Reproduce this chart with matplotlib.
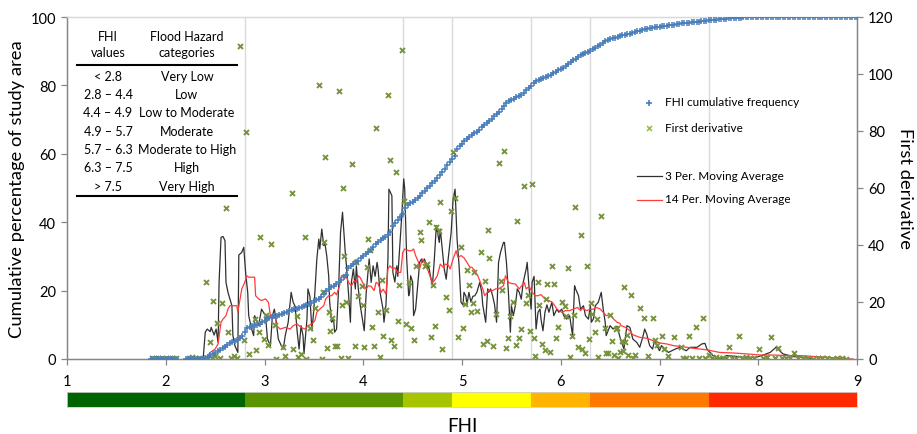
import matplotlib
matplotlib.use("Agg")
import matplotlib.pyplot as plt
from matplotlib.lines import Line2D
import numpy as np

plt.rcParams['font.family'] = ['Lato', 'DejaVu Sans']

# ---------------- data ----------------
cum_x = [1.850, 1.875, 1.900, 1.925, 1.950, 1.975, 2.000, 2.025, 2.050, 2.075, 2.100,
         2.200, 2.225, 2.250, 2.275, 2.300, 2.325, 2.350, 2.375,
         2.400, 2.425, 2.450, 2.475, 2.500, 2.525, 2.550, 2.575, 2.600, 2.625,
         2.650, 2.675, 2.700, 2.725, 2.750, 2.775, 2.800, 2.825, 2.850, 2.875,
         2.900, 2.925, 2.950, 2.975, 3.000, 3.025, 3.050, 3.075, 3.100, 3.125,
         3.150, 3.175, 3.200, 3.225, 3.250, 3.275, 3.300, 3.325, 3.350, 3.375,
         3.400, 3.425, 3.450, 3.475, 3.500, 3.525, 3.550, 3.575, 3.600, 3.625,
         3.650, 3.675, 3.700, 3.725, 3.750, 3.775, 3.800, 3.825, 3.850, 3.875,
         3.900, 3.925, 3.950, 3.975, 4.000, 4.025, 4.050, 4.075, 4.100, 4.125,
         4.150, 4.175, 4.200, 4.225, 4.250, 4.275, 4.300, 4.325, 4.350, 4.375,
         4.400, 4.425, 4.450, 4.475, 4.500, 4.525, 4.550, 4.575, 4.600, 4.625,
         4.650, 4.675, 4.700, 4.725, 4.750, 4.775, 4.800, 4.825, 4.850, 4.875,
         4.900, 4.925, 4.950, 4.975, 5.000, 5.025, 5.050, 5.075, 5.100, 5.125,
         5.150, 5.175, 5.200, 5.225, 5.250, 5.275, 5.300, 5.325, 5.350, 5.375,
         5.400, 5.425, 5.450, 5.475, 5.500, 5.525, 5.550, 5.575, 5.600, 5.625,
         5.650, 5.675, 5.700, 5.725, 5.750, 5.775, 5.800, 5.825, 5.850, 5.875,
         5.900, 5.925, 5.950, 5.975, 6.000, 6.025, 6.050, 6.075, 6.100, 6.125,
         6.150, 6.175, 6.200, 6.225, 6.250, 6.275, 6.300, 6.325, 6.350, 6.375,
         6.400, 6.425, 6.450, 6.475, 6.500, 6.525, 6.550, 6.575, 6.600, 6.625,
         6.650, 6.675, 6.700, 6.725, 6.750, 6.775, 6.800, 6.825, 6.850, 6.875,
         6.900, 6.925, 6.950, 6.975, 7.000, 7.025, 7.050, 7.075, 7.100, 7.125,
         7.150, 7.175, 7.200, 7.225, 7.250, 7.275, 7.300, 7.325, 7.350, 7.375,
         7.400, 7.425, 7.450, 7.475, 7.500, 7.525, 7.550, 7.575, 7.600, 7.625,
         7.650, 7.675, 7.700, 7.725, 7.750, 7.775, 7.800, 7.825, 7.850, 7.875,
         7.900, 7.925, 7.950, 7.975, 8.000, 8.025, 8.050, 8.075, 8.100, 8.125,
         8.150, 8.175, 8.200, 8.225, 8.250, 8.275, 8.300, 8.325, 8.350, 8.375,
         8.400, 8.425, 8.450, 8.475, 8.500, 8.525, 8.550, 8.575, 8.600, 8.625,
         8.650, 8.675, 8.700, 8.725, 8.750, 8.775, 8.800, 8.825, 8.850, 8.875,
         8.900, 8.925, 8.950, 8.975, 9.000]
cum_pct = [0, 0, 0, 0, 0, 0, 0, 0, 0, 0, 0,
           0, 0, 0, 0, 0, 0, 0, 0,
           0.3, 0.7, 1.2, 1.5, 1.8, 2.2, 2.6, 3.1, 3.6, 4.2,
           4.8, 5.0, 5.3, 5.6, 6.0, 6.6, 7.8, 9.2, 9.4, 9.6,
           9.8, 10.0, 10.3, 10.8, 11.2, 11.6, 12.0, 12.2, 12.5, 12.7,
           13.0, 13.2, 13.5, 13.7, 14.0, 14.2, 14.5, 14.7, 15.0, 15.3,
           15.6, 15.9, 16.2, 16.5, 16.9, 17.2, 17.5, 18.2, 19.0, 19.8,
           20.5, 21.0, 21.3, 21.8, 22.4, 23.1, 23.9, 24.6, 26.5, 27.2,
           27.8, 28.3, 28.8, 29.4, 30.0, 30.6, 31.2, 32.0, 32.8, 33.6,
           34.3, 34.8, 35.3, 35.8, 36.4, 37.0, 39.0, 39.8, 40.6, 41.5,
           42.5, 44.2, 44.9, 45.5, 46.0, 46.5, 47.0, 47.7, 48.5, 49.2,
           50.0, 50.7, 51.4, 52.1, 52.9, 53.8, 54.8, 55.7, 56.6, 57.5,
           58.5, 59.5, 61.4, 62.3, 63.0, 63.7, 64.3, 64.9, 65.5, 66.0,
           66.5, 67.1, 67.8, 68.4, 69.0, 69.6, 70.3, 71.0, 71.6, 72.3,
           73.2, 74.0, 75.0, 75.4, 75.8, 76.1, 76.5, 76.9, 77.2, 77.9,
           78.6, 79.2, 79.8, 80.6, 81.2, 81.5, 81.8, 82.1, 82.4, 82.8,
           83.1, 83.5, 84.0, 84.4, 84.8, 85.2, 85.6, 86.2, 86.8, 87.3,
           87.8, 88.3, 88.8, 89.2, 89.6, 89.9, 90.2, 90.6, 91.0, 91.4,
           91.8, 92.4, 93.0, 93.4, 93.7, 93.9, 94.0, 94.2, 94.4, 94.6,
           94.7, 94.9, 95.1, 95.4, 95.6, 95.8, 96.0, 96.2, 96.4, 96.6,
           96.7, 96.9, 97.0, 97.1, 97.2, 97.3, 97.4, 97.5, 97.6, 97.7,
           97.8, 97.9, 98.0, 98.1, 98.2, 98.25, 98.3, 98.4, 98.5, 98.55,
           98.6, 98.7, 98.8, 98.9, 99.0, 99.05, 99.1, 99.2, 99.3, 99.4,
           99.5, 99.55, 99.6, 99.65, 99.7, 99.75, 99.8, 99.85, 99.9, 99.95,
           100, 100, 100, 100, 100, 100, 100, 100, 100, 100,
           100, 100, 100, 100, 100, 100, 100, 100, 100, 100,
           100, 100, 100, 100, 100, 100, 100, 100, 100, 100,
           100, 100, 100, 100, 100, 100, 100, 100, 100, 100,
           100, 100, 100, 100, 100]

deriv_x = [1.86, 1.88, 1.90, 1.92, 1.94, 1.96, 1.98, 2.00, 2.02, 2.04, 2.06, 2.08, 2.10,
           2.24, 2.27, 2.30, 2.34, 2.38, 2.41, 2.43, 2.45, 2.47, 2.48, 2.50, 2.52, 2.55,
           2.57, 2.61, 2.63, 2.66, 2.69, 2.72, 2.75, 2.79, 2.81, 2.84, 2.90, 2.91, 2.94,
           2.95, 2.99, 3.02, 3.04, 3.07, 3.11, 3.12, 3.19, 3.21, 3.28, 3.29, 3.33, 3.34,
           3.37, 3.41, 3.42, 3.46, 3.49, 3.51, 3.55, 3.58, 3.59, 3.60, 3.61, 3.63, 3.65,
           3.66, 3.68, 3.71, 3.73, 3.75, 3.77, 3.78, 3.79, 3.81, 3.83, 3.85, 3.89, 3.92,
           3.93, 3.95, 3.99, 4.00, 4.01, 4.04, 4.05, 4.07, 4.09, 4.11, 4.13, 4.15, 4.17,
           4.19, 4.20, 4.23, 4.25, 4.27, 4.28, 4.31, 4.33, 4.35, 4.36, 4.39, 4.41, 4.43,
           4.46, 4.48, 4.51, 4.53, 4.57, 4.58, 4.63, 4.65, 4.67, 4.69, 4.71, 4.73, 4.74,
           4.77, 4.78, 4.80, 4.84, 4.87, 4.89, 4.91, 4.93, 4.96, 4.99, 5.01, 5.03, 5.05,
           5.07, 5.09, 5.11, 5.12, 5.15, 5.19, 5.21, 5.23, 5.25, 5.26, 5.27, 5.31, 5.34,
           5.37, 5.39, 5.40, 5.43, 5.45, 5.47, 5.49, 5.52, 5.55, 5.56, 5.58, 5.60, 5.63,
           5.65, 5.67, 5.69, 5.71, 5.73, 5.74, 5.77, 5.78, 5.81, 5.84, 5.85, 5.86, 5.89,
           5.91, 5.93, 5.95, 5.97, 6.01, 6.04, 6.05, 6.07, 6.09, 6.11, 6.13, 6.14, 6.17,
           6.21, 6.22, 6.25, 6.27, 6.29, 6.31, 6.32, 6.35, 6.37, 6.38, 6.41, 6.45, 6.46,
           6.48, 6.50, 6.52, 6.54, 6.56, 6.57, 6.58, 6.60, 6.62, 6.63, 6.64, 6.65, 6.67,
           6.68, 6.71, 6.73, 6.75, 6.80, 6.84, 6.88, 6.93, 6.95, 6.97, 7.03, 7.05, 7.09,
           7.15, 7.22, 7.24, 7.27, 7.30, 7.33, 7.37, 7.40, 7.44, 7.46, 7.50, 7.53, 7.57,
           7.60, 7.64, 7.67, 7.70, 7.73, 7.77, 7.80, 7.84, 7.88, 7.92, 7.96, 8.01, 8.05,
           8.09, 8.13, 8.17, 8.20, 8.24, 8.28, 8.32, 8.36, 8.40, 8.45, 8.50, 8.55, 8.60,
           8.65, 8.70, 8.75, 8.80, 8.85, 8.89]
deriv_y = [0.3, 0.0, 0.5, 0.2, 0.0, 0.4, 0.1, 0.3, 0.0, 0.5, 0.2, 0.0, 0.4,
           0.3, 0.8, 0.2, 0.5, 0.0, 27.1, 0.5, 5.8, 0.3, 20.3, 1.0, 12.6, 0.4,
           19.5, 53.0, 9.6, 0.5, 1.0, 0.3, 110.0, 6.7, 79.6, 1.8, 14.0, 3.3, 9.4,
           42.9, 7.0, 15.4, 4.9, 40.5, 11.9, 0.0, 4.1, 1.2, 58.2, 3.5, 15.2, 0.7,
           1.8, 42.8, 0.0, 10.8, 6.8, 17.8, 96.0, 0.0, 23.4, 41.2, 70.9, 3.7, 16.6,
           9.9, 14.3, 4.7, 4.7, 94.0, 0.5, 18.9, 60.0, 36.3, 19.9, 0.5, 68.4, 4.5,
           33.9, 22.2, 25.7, 18.9, 4.1, 32.2, 42.0, 38.2, 11.3, 4.7, 81.0, 16.6, 0.8,
           27.7, 8.2, 17.1, 92.7, 69.8, 6.8, 4.5, 65.7, 13.2, 26.1, 108.5, 55.6, 12.4,
           27.1, 10.8, 6.8, 32.5, 44.4, 41.8, 32.5, 33.3, 48.2, 7.6, 26.1, 11.7, 46.2,
           44.8, 55.0, 3.5, 21.6, 17.2, 51.8, 72.6, 56.4, 7.6, 39.4, 10.8, 19.3, 31.2,
           26.1, 16.6, 19.6, 30.4, 17.0, 37.6, 5.3, 27.2, 6.2, 45.4, 35.3, 4.7, 15.9,
           68.8, 27.2, 24.3, 73.1, 3.9, 7.4, 15.2, 20.1, 4.9, 48.3, 7.3, 10.5, 60.8,
           19.6, 22.6, 9.9, 61.4, 7.4, 0.9, 26.9, 19.1, 5.3, 3.2, 21.1, 26.3, 2.5,
           32.5, 26.3, 7.3, 11.1, 20.1, 18.5, 15.2, 31.8, 0.6, 8.2, 15.6, 53.4, 4.3,
           43.5, 3.5, 2.1, 32.7, 7.0, 19.6, 15.8, 9.4, 14.0, 0.6, 50.3, 10.9, 2.1,
           2.0, 15.6, 6.4, 1.5, 10.5, 10.9, 0.5, 2.5, 6.4, 2.9, 25.1, 5.8, 8.5,
           1.5, 22.6, 0.5, 1.5, 17.9, 14.3, 1.2, 14.3, 6.7, 5.0, 8.0, 3.5, 1.2,
           7.6, 4.2, 0.5, 0.3, 8.2, 0.5, 11.3, 0.3, 14.3, 0.5, 1.5, 0.3, 0.8,
           0.2, 0.5, 0.3, 4.3, 0.2, 0.5, 8.0, 0.3, 0.6, 0.2, 0.4, 3.5, 0.3,
           0.6, 7.6, 0.2, 3.9, 0.4, 0.2, 0.5, 2.1, 0.3, 0.2, 0.5, 0.1, 0.3,
           0.2, 0.4, 0.1, 0.3, 0.2, 0.1]

ma3_x = [2.22, 2.30, 2.38, 2.40, 2.42, 2.45, 2.46, 2.49, 2.51, 2.53, 2.54, 2.56, 2.58,
         2.60, 2.61, 2.63, 2.64, 2.67, 2.68, 2.70, 2.73, 2.74, 2.77, 2.79, 2.81, 2.83,
         2.84, 2.87, 2.89, 2.90, 2.94, 2.97, 3.01, 3.03, 3.06, 3.08, 3.10, 3.12, 3.14,
         3.17, 3.19, 3.21, 3.24, 3.27, 3.29, 3.31, 3.33, 3.35, 3.37, 3.39, 3.40, 3.43,
         3.44, 3.46, 3.48, 3.50, 3.53, 3.55, 3.56, 3.58, 3.60, 3.61, 3.63, 3.65, 3.66,
         3.68, 3.70, 3.71, 3.73, 3.75, 3.77, 3.79, 3.81, 3.82, 3.83, 3.85, 3.87, 3.88,
         3.90, 3.92, 3.93, 3.95, 3.97, 4.01, 4.03, 4.06, 4.08, 4.10, 4.12, 4.14, 4.15,
         4.17, 4.20, 4.21, 4.23, 4.25, 4.26, 4.29, 4.30, 4.32, 4.34, 4.35, 4.37, 4.39,
         4.41, 4.42, 4.44, 4.46, 4.47, 4.48, 4.50, 4.51, 4.53, 4.56, 4.57, 4.59, 4.60,
         4.62, 4.65, 4.66, 4.68, 4.70, 4.72, 4.74, 4.77, 4.78, 4.80, 4.82, 4.84, 4.86,
         4.89, 4.91, 4.93, 4.95, 4.97, 4.99, 5.01, 5.02, 5.04, 5.05, 5.07, 5.09, 5.11,
         5.13, 5.15, 5.18, 5.20, 5.21, 5.24, 5.26, 5.27, 5.29, 5.31, 5.33, 5.35, 5.37,
         5.39, 5.42, 5.43, 5.45, 5.47, 5.49, 5.50, 5.52, 5.54, 5.56, 5.58, 5.60, 5.62,
         5.65, 5.66, 5.68, 5.70, 5.71, 5.73, 5.75, 5.77, 5.79, 5.80, 5.82, 5.84, 5.86,
         5.88, 5.91, 5.93, 5.96, 5.98, 6.01, 6.03, 6.06, 6.09, 6.12, 6.14, 6.15, 6.18,
         6.20, 6.23, 6.25, 6.28, 6.30, 6.31, 6.33, 6.35, 6.38, 6.41, 6.43, 6.45, 6.46,
         6.50, 6.53, 6.57, 6.61, 6.64, 6.67, 6.70, 6.73, 6.77, 6.80, 6.83, 6.85, 6.87,
         6.90, 6.93, 6.95, 7.00, 7.02, 7.09, 7.16, 7.21, 7.27, 7.31, 7.38, 7.43, 7.46,
         7.48, 7.54, 7.63, 7.68, 7.78, 7.85, 7.98, 8.05, 8.12, 8.18, 8.25, 8.35, 8.45, 8.55]
ma3_y = [0, 0, 0.6, 9.4, 10.5, 9.6, 11.1, 8.4, 10.5, 5.8, 26.9, 42.7, 43.0,
         41.5, 26.9, 23.4, 22.2, 18.7, 8.2, 4.7, 2.3, 36.5, 37.4, 39.2, 29.8, 23.4,
         15.2, 10.5, 8.2, 15.2, 11.7, 17.5, 15.2, 7.0, 4.7, 15.2, 17.5, 12.9, 7.0,
         4.7, 3.5, 8.2, 12.9, 23.4, 19.9, 18.5, 9.9, 3.5, 11.7, 8.2, 1.8, 14.0,
         24.6, 22.0, 9.9, 17.5, 35.1, 42.1, 38.6, 45.6, 39.8, 41.0, 36.3, 29.2, 19.9,
         12.9, 14.0, 9.4, 10.5, 24.6, 44.4, 51.5, 41.0, 36.3, 32.7, 23.4, 12.9, 26.9,
         31.6, 24.6, 32.7, 24.6, 18.7, 9.9, 23.4, 35.1, 26.9, 32.7, 29.0, 33.9, 31.6,
         23.4, 17.5, 12.9, 19.0, 35.1, 59.6, 57.3, 30.4, 27.0, 32.7, 29.0, 39.8, 50.3,
         63.2, 59.6, 35.1, 22.2, 23.4, 29.2, 27.0, 15.2, 17.5, 29.2, 33.9, 35.1, 33.9,
         35.1, 31.6, 33.0, 29.2, 25.7, 35.1, 46.8, 40.9, 45.6, 38.6, 31.6, 28.0, 35.1,
         44.4, 56.1, 59.6, 42.1, 33.0, 19.9, 19.0, 23.4, 22.0, 19.0, 23.4, 20.0, 22.0,
         22.2, 23.4, 26.9, 23.4, 19.0, 12.9, 24.6, 23.4, 24.6, 22.2, 19.0, 12.9, 33.9,
         37.4, 40.9, 40.9, 33.9, 23.4, 9.4, 18.7, 15.2, 18.7, 24.6, 23.4, 21.0, 26.9,
         31.6, 33.9, 24.6, 17.5, 26.9, 29.0, 10.5, 16.4, 17.5, 14.0, 9.9, 16.4, 19.0,
         16.4, 19.9, 15.2, 17.5, 16.4, 17.5, 15.2, 14.0, 15.2, 8.2, 25.7, 24.6, 22.2,
         17.5, 18.7, 15.2, 14.0, 18.7, 12.9, 14.0, 18.7, 19.9, 23.4, 17.5, 12.9, 8.2,
         11.7, 10.5, 11.5, 6.4, 3.5, 11.7, 11.1, 7.0, 5.8, 4.1, 7.6, 10.5, 8.8,
         4.7, 3.5, 6.4, 2.9, 4.7, 2.3, 3.5, 4.1, 2.9, 4.1, 4.1, 5.3, 5.5,
         3.5, 1.2, 0.2, 1.2, 0.9, 0.6, 0.6, 1.4, 2.3, 4.1, 1.8, 0.9, 0.6, 0.0]

ma14_x = [2.41, 2.45, 2.50, 2.53, 2.56, 2.58, 2.61, 2.63, 2.65, 2.72, 2.73, 2.77, 2.80,
          2.82, 2.84, 2.90, 2.91, 2.94, 2.97, 3.01, 3.04, 3.06, 3.08, 3.11, 3.12, 3.16,
          3.21, 3.26, 3.29, 3.33, 3.37, 3.41, 3.44, 3.48, 3.51, 3.53, 3.56, 3.60, 3.62,
          3.65, 3.68, 3.71, 3.73, 3.76, 3.78, 3.80, 3.81, 3.83, 3.85, 3.88, 3.91, 3.93,
          3.95, 3.97, 4.01, 4.03, 4.05, 4.08, 4.11, 4.13, 4.15, 4.18, 4.20, 4.23, 4.25,
          4.27, 4.30, 4.32, 4.35, 4.38, 4.40, 4.42, 4.46, 4.49, 4.51, 4.53, 4.56, 4.57,
          4.60, 4.62, 4.65, 4.68, 4.70, 4.72, 4.75, 4.78, 4.81, 4.83, 4.86, 4.88, 4.91,
          4.94, 4.96, 4.99, 5.02, 5.05, 5.08, 5.10, 5.13, 5.16, 5.18, 5.21, 5.23, 5.27,
          5.30, 5.34, 5.37, 5.42, 5.44, 5.47, 5.50, 5.54, 5.58, 5.60, 5.63, 5.65, 5.68,
          5.71, 5.74, 5.77, 5.80, 5.84, 5.88, 5.91, 5.94, 5.96, 6.01, 6.05, 6.09, 6.13,
          6.17, 6.20, 6.22, 6.26, 6.30, 6.33, 6.36, 6.40, 6.43, 6.46, 6.50, 6.53, 6.57,
          6.60, 6.61, 6.65, 6.70, 6.73, 6.80, 6.87, 6.94, 7.01, 7.07, 7.14, 7.21, 7.28,
          7.35, 7.41, 7.48, 7.55, 7.61, 7.75, 7.88, 8.02, 8.15, 8.29, 8.42, 8.55, 8.69,
          8.82, 8.96]
ma14_y = [0.6, 2.3, 3.5, 5.3, 12.9, 14.0, 15.2, 17.5, 18.7, 18.7, 16.4, 24.6, 26.9,
          29.2, 28.7, 28.7, 22.2, 21.1, 20.5, 21.1, 19.9, 15.2, 14.0, 15.2, 11.7, 10.5,
          11.1, 10.5, 11.7, 12.3, 11.1, 10.5, 11.7, 12.3, 13.5, 16.4, 17.5, 18.7, 21.1,
          22.2, 22.2, 23.4, 22.5, 25.7, 29.2, 29.5, 28.1, 29.0, 26.9, 25.7, 27.5, 27.0,
          29.2, 28.5, 25.7, 24.6, 25.7, 25.5, 24.0, 26.9, 26.5, 23.4, 24.5, 22.8, 31.6,
          32.7, 31.6, 32.0, 30.4, 30.4, 37.4, 38.6, 38.0, 38.0, 38.6, 36.3, 33.9, 31.6,
          35.1, 33.9, 31.6, 28.7, 26.9, 27.5, 29.2, 33.3, 32.2, 33.3, 33.0, 31.6, 35.1,
          38.0, 35.6, 36.3, 35.5, 33.9, 32.2, 32.2, 31.0, 29.2, 27.5, 24.6, 22.2, 24.0,
          23.8, 24.6, 24.6, 25.7, 29.2, 26.9, 26.5, 26.3, 24.6, 25.5, 26.9, 24.6, 25.5,
          23.4, 22.2, 22.2, 22.6, 21.1, 20.5, 20.0, 18.7, 17.5, 16.4, 17.0, 17.0, 17.5,
          18.1, 17.0, 17.8, 17.0, 17.4, 17.5, 18.1, 17.5, 16.4, 15.2, 15.6, 14.2, 12.9,
          12.5, 11.7, 11.2, 9.9, 8.5, 7.6, 7.3, 6.4, 5.6, 5.3, 4.7, 4.4, 4.1,
          3.7, 3.5, 3.2, 2.7, 2.3, 2.1, 1.8, 1.4, 1.4, 1.2, 1.2, 0.9, 0.6,
          0.2, 0.0]

class_edges = [1, 2.8, 4.4, 4.9, 5.7, 6.3, 7.5, 9]
class_colors = ['#006400', '#5a9400', '#a6c400', '#ffff00', '#ffb400', '#ff7800', '#ff2a00']
grid_positions = [2.8, 4.4, 4.9, 5.7, 6.3, 7.5]

table_ranges = ['< 2.8', '2.8 – 4.4', '4.4 – 4.9', '4.9 – 5.7', '5.7 – 6.3', '6.3 – 7.5', '> 7.5']
table_labels = ['Very Low', 'Low', 'Low to Moderate', 'Moderate', 'Moderate to High', 'High', 'Very High']

# ---------------- figure ----------------
W, H = 917, 435
fig = plt.figure(figsize=(W / 100, H / 100), dpi=100)

def fx(x):
    return x / W

def fy(y):
    return 1 - y / H

L, R, T, B = 67, 857, 18, 360
ax = fig.add_axes([fx(L), fy(B), (R - L) / W, (B - T) / H])
ax2 = ax.twinx()

GRID = '#d9d9d9'
AX = '#868686'
BLUE = '#4a7ebb'
GREEN = '#77933c'

for g in grid_positions:
    ax2.axvline(g, color=GRID, lw=1.0, zorder=0)

ax2.plot(ma3_x, ma3_y, color='#303030', lw=0.9, zorder=2)
ax2.plot(ma14_x, ma14_y, color='#ff3b3b', lw=0.9, zorder=2)
ax2.plot(deriv_x, deriv_y, ls='none', marker='x', ms=3.6, mew=1.4,
         color=GREEN, zorder=3)

ax.set_zorder(ax2.get_zorder() + 1)
ax.patch.set_visible(False)
ax.plot(cum_x, cum_pct, ls='none', marker='+', ms=4.2, mew=1.1, color=BLUE, zorder=4)

ax.set_xlim(1, 9)
ax.set_ylim(0, 100)
ax2.set_ylim(0, 120)
ax.set_xticks(range(1, 10))
ax.set_yticks(range(0, 101, 20))
ax2.set_yticks(range(0, 121, 20))

for a in (ax, ax2):
    for s in a.spines.values():
        s.set_color(AX)
        s.set_linewidth(0.9)
    a.spines['top'].set_color(GRID)
    a.tick_params(colors=AX, labelcolor='black', labelsize=10.5, length=4, width=0.9)
ax.tick_params(axis='x', pad=7)
ax.tick_params(axis='y', pad=4)
ax2.tick_params(axis='y', pad=4)

ax.set_ylabel('Cumulative percentage of study area', fontsize=13.2, labelpad=4)
ax2.set_ylabel('First derivative', fontsize=13.2, rotation=270, labelpad=14)

# ---------------- colour bar ----------------
cb = fig.add_axes([fx(L), fy(408), (R - L) / W, 15 / H])
widths = np.diff(class_edges)
cb.barh([0.5] * len(widths), widths, left=class_edges[:-1], height=1.0,
        color=class_colors, edgecolor='none')
cb.set_xlim(1, 9)
cb.set_ylim(0, 1)
cb.set_xticks([])
cb.set_yticks([])
for s in cb.spines.values():
    s.set_color('#d0d0d0')
    s.set_linewidth(0.6)

fig.text(fx(462), fy(427), 'FHI', ha='center', va='center', fontsize=13.5)

# ---------------- table ----------------
c1, c2 = 108, 187
fs = 9
fig.text(fx(c1), fy(37), 'FHI', ha='center', va='center', fontsize=fs)
fig.text(fx(c1), fy(53), 'values', ha='center', va='center', fontsize=fs)
fig.text(fx(c2), fy(37), 'Flood Hazard', ha='center', va='center', fontsize=fs)
fig.text(fx(c2), fy(53), 'categories', ha='center', va='center', fontsize=fs)
row_y = [77, 95, 113, 132, 150, 168, 187]
for yy, r, lab in zip(row_y, table_ranges, table_labels):
    fig.text(fx(c1), fy(yy), r, ha='center', va='center', fontsize=fs)
    fig.text(fx(c2), fy(yy), lab, ha='center', va='center', fontsize=fs)
for yy in (66, 197):
    fig.add_artist(Line2D([fx(77), fx(237)], [fy(yy), fy(yy)], color='black', lw=1.5))

# ---------------- legend ----------------
fig.add_artist(Line2D([fx(649)], [fy(104)], ls='none', marker='+', ms=4.5, mew=1.2, color=BLUE))
fig.text(fx(665), fy(103), 'FHI cumulative frequency', ha='left', va='center', fontsize=8.5)
fig.add_artist(Line2D([fx(649)], [fy(129)], ls='none', marker='x', ms=3.6, mew=1.2, color='#9bbb59'))
fig.text(fx(665), fy(128), 'First derivative', ha='left', va='center', fontsize=8.5)
fig.add_artist(Line2D([fx(637), fx(662)], [fy(177), fy(177)], color='#303030', lw=0.9))
fig.text(fx(665), fy(176), '3 Per. Moving Average', ha='left', va='center', fontsize=8.5)
fig.add_artist(Line2D([fx(637), fx(662)], [fy(201), fy(201)], color='#ff3b3b', lw=0.9))
fig.text(fx(665), fy(200), '14 Per. Moving Average', ha='left', va='center', fontsize=8.5)

fig.savefig('out.png', dpi=100)
